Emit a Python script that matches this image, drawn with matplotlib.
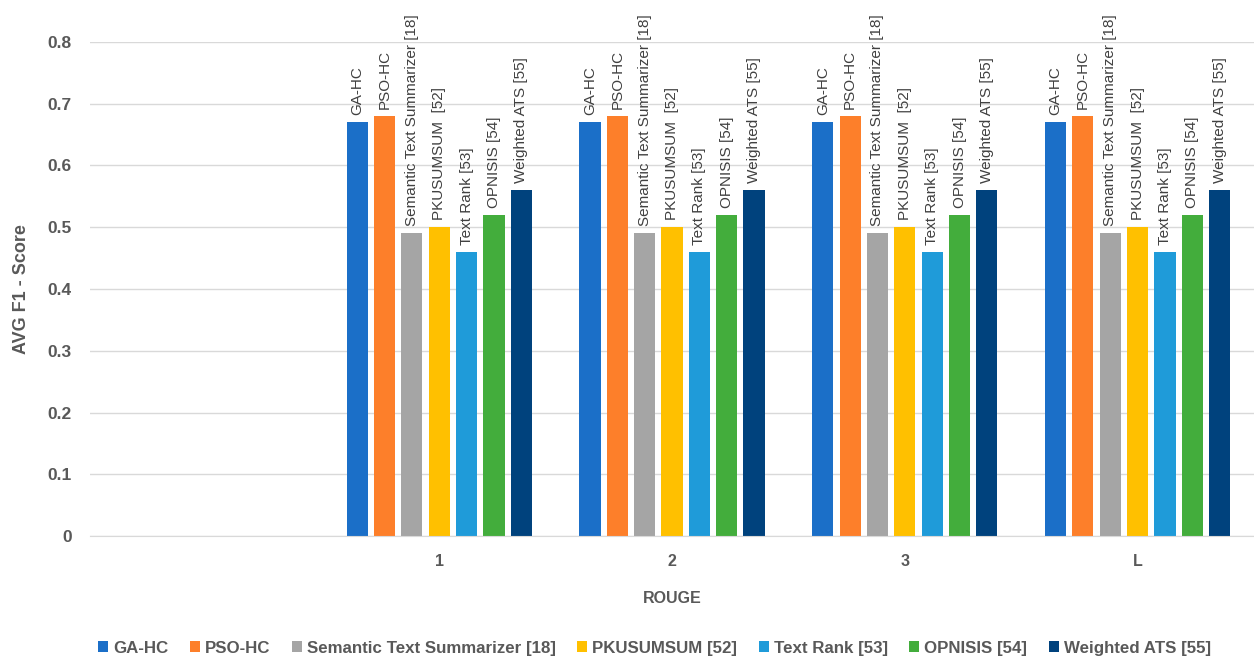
import numpy as np
import matplotlib
matplotlib.use("Agg")
import matplotlib.pyplot as plt

plt.rcParams['font.family'] = ['Liberation Sans', 'DejaVu Sans']

# ROUGE variants (the first slot is left empty on purpose)
categories = ['', '1', '2', '3', 'L']

series_names = ['GA-HC', 'PSO-HC', 'Semantic Text Summarizer [18]', 'PKUSUMSUM [52]',
                'Text Rank [53]', 'OPNISIS [54]', 'Weighted ATS [55]']
bar_labels = ['GA-HC', 'PSO-HC', 'Semantic Text Summarizer [18]', 'PKUSUMSUM  [52]',
              'Text Rank [53]', 'OPNISIS [54]', 'Weighted ATS [55]']

ga_hc = [np.nan, 0.67, 0.67, 0.67, 0.67]
pso_hc = [np.nan, 0.68, 0.68, 0.68, 0.68]
semantic = [np.nan, 0.49, 0.49, 0.49, 0.49]
pkusumsum = [np.nan, 0.50, 0.50, 0.50, 0.50]
text_rank = [np.nan, 0.46, 0.46, 0.46, 0.46]
opnisis = [np.nan, 0.52, 0.52, 0.52, 0.52]
weighted_ats = [np.nan, 0.56, 0.56, 0.56, 0.56]

series_values = [ga_hc, pso_hc, semantic, pkusumsum, text_rank, opnisis, weighted_ats]
colors = ['#1b6fc8', '#fd7f2a', '#a5a5a5', '#ffc000', '#1f9bd9', '#43ad3c', '#00427d']

yticks = [0, 0.1, 0.2, 0.3, 0.4, 0.5, 0.6, 0.7, 0.8]
ytick_labels = ['0', '0.1', '0.2', '0.3', '0.4', '0.5', '0.6', '0.7', '0.8']

fig = plt.figure(figsize=(12.54, 6.62), dpi=100)
ax = fig.add_axes([0.0718, 0.1903, 0.9282, 0.7463])

x = np.arange(len(categories))
step = 0.1175
width = 0.091
n = len(series_values)
for i, (name, lab, vals, c) in enumerate(zip(series_names, bar_labels, series_values, colors)):
    pos = x + (i - (n - 1) / 2) * step
    ax.bar(pos, vals, width, color=c, label=name, zorder=3)
    for xp, v in zip(pos, vals):
        if np.isnan(v):
            continue
        ax.annotate(lab, (xp, v), xytext=(0, 5), textcoords='offset points',
                    rotation=90, ha='center', va='bottom', fontsize=11,
                    color='#404040', annotation_clip=False)

ax.set_xlim(-0.5, len(categories) - 0.5)
ax.set_ylim(0, 0.8)
ax.set_xticks(x)
ax.set_xticklabels(categories, fontsize=11.5, fontweight='bold', color='#595959')
ax.set_yticks(yticks)
ax.set_yticklabels(ytick_labels, fontsize=12.5, fontweight='bold', color='#595959')
ax.tick_params(axis='both', length=0)
ax.tick_params(axis='x', pad=13)
ax.tick_params(axis='y', pad=13)

ax.grid(axis='y', color='#d9d9d9', linewidth=1, zorder=0)
for s in ['top', 'right', 'left']:
    ax.spines[s].set_visible(False)
ax.spines['bottom'].set_color('#d9d9d9')
ax.spines['bottom'].set_zorder(4)

ax.set_xlabel('ROUGE', fontsize=11.5, fontweight='bold', color='#595959', labelpad=16)
ax.set_ylabel('AVG F1 - Score', fontsize=13, fontweight='bold', color='#595959', labelpad=13)

fig.legend(loc='center', bbox_to_anchor=(0.522, 0.021), ncol=7, frameon=False,
           prop={'size': 12.2, 'weight': 'bold'}, labelcolor='#595959',
           handlelength=0.6, handleheight=0.6, handletextpad=0.3, columnspacing=1.25)

fig.savefig('out.png', dpi=100)
